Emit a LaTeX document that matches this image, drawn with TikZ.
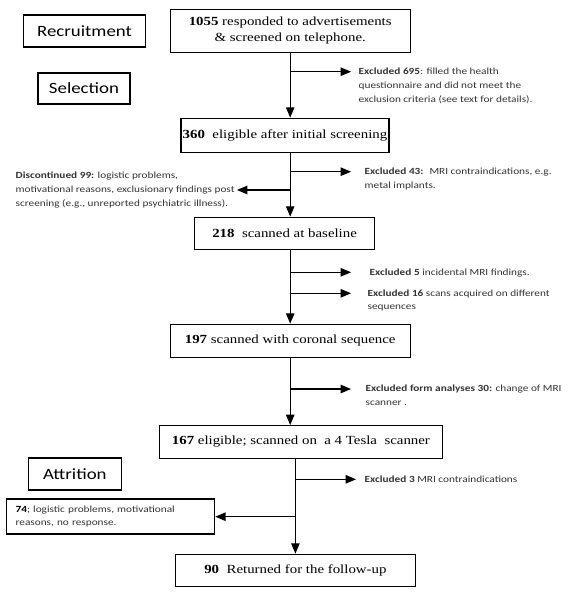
\documentclass[tikz,border=0pt]{standalone}
\usepackage{fontspec}
\setmainfont{Liberation Serif}[FakeStretch=1.2]
\setsansfont{Carlito}[FakeStretch=1.2]
\usepackage{tikz}
\usetikzlibrary{arrows}
\usetikzlibrary{positioning}

\begin{document}
\begin{tikzpicture}[->,>=triangle 45, x=1pt, y=-1pt, line width=1.4pt]
            \tikzstyle{stage}=[draw, fill=white, font=\sffamily\fontsize{15.7}{18}\selectfont, minimum height=32pt, inner sep=0pt]
            \tikzstyle{box}=[draw, fill=white, font=\fontsize{12.4}{16}\selectfont, align=center, inner sep=0pt]
            \tikzstyle{note}=[font=\sffamily\fontsize{9.4}{13.8}\selectfont, text=black!80, align=left, inner xsep=10pt, inner ysep=0pt, anchor=north west]

            \useasboundingbox (0,0) rectangle (567,599);

            % stage labels
            \node[stage, minimum width=122pt] (recruit) at (84.5,31) {Recruitment};
            \node[stage, minimum width=92pt, minimum height=31pt] (select) at (84,88.4) {Selection};
            \node[stage, minimum width=93pt] (attrit) at (74.8,474) {Attrition};

            % main flow
            \node[box, minimum width=240pt, minimum height=43pt] (s1055) at (290.2,30.8) {\textbf{1055} responded to advertisements\\ \& screened on telephone.};
            \node[box, minimum width=208pt, minimum height=34.4pt] (s360) at (285,135.5) {\textbf{360}~ eligible after initial screening};
            \node[box, minimum width=180pt, minimum height=32pt] (s218) at (284.6,233.3) {\textbf{218}~ scanned at baseline};
            \node[box, minimum width=240pt, minimum height=33.4pt] (s197) at (290.2,341) {\textbf{197} scanned with coronal sequence};
            \node[box, minimum width=283pt, minimum height=32.6pt] (s167) at (300.9,442) {\textbf{167} eligible; scanned on~ a 4 Tesla~ scanner};
            \node[box, minimum width=240pt, minimum height=32.4pt] (s90) at (295.4,570.5) {\textbf{90}~ Returned for the follow-up};

            % exclusions
            \node[note, inner xsep=7pt] (x695) at (351,67.2) {\textbf{Excluded 695}: filled the health\\questionnaire and did not meet the\\exclusion criteria (see text for details).};
            \node[note, inner xsep=13pt] (x43) at (351,167.2) {\textbf{Excluded 43:}~ MRI contraindications, e.g.\\metal implants.};
            \node[note, anchor=east, inner xsep=1.7pt] (d99) at (237,190) {\textbf{Discontinued 99:} logistic problems,\\motivational reasons, exclusionary findings post\\screening (e.g., unreported psychiatric illness).};
            \node[note, inner xsep=18pt] (x5) at (351,267.8) {\textbf{Excluded 5} incidental MRI findings.};
            \node[note, inner xsep=16pt] (x16) at (351,288.8) {\textbf{Excluded 16} scans acquired on different\\sequences};
            \node[note, inner xsep=14pt] (x30) at (351,384.5) {\textbf{Excluded form analyses 30:} change of MRI\\scanner .};
            \node[note, inner xsep=8pt] (x3) at (356,474.8) {\textbf{Excluded 3} MRI contraindications};
            \node[draw, font=\sffamily\fontsize{9.4}{13.4}\selectfont, text=black!80, align=left, text width=190pt, inner xsep=9pt, minimum height=35pt] (a74) at (110.6,516.5) {\textcolor{black}{\textbf{74}}; logistic problems, motivational\\reasons, no response.};

            % junctions on the main line
            \coordinate (j695) at (290.2,71.7);
            \coordinate (j43) at (290.2,171.7);
            \coordinate (j99) at (290.2,190);
            \coordinate (j5) at (290.2,272.3);
            \coordinate (j16) at (290.2,293.3);
            \coordinate (j30) at (290.2,389);
            \coordinate (j3) at (295.4,479.3);
            \coordinate (j74) at (295.4,516.7);

            \draw (s1055.south) -- (s1055.south |- s360.north);
            \draw (s1055.south |- s360.south) -- (s1055.south |- s218.north);
            \draw (s1055.south |- s218.south) -- (s1055.south |- s197.north);
            \draw (s197.south) -- (s197.south |- s167.north);
            \draw (s90.north |- s167.south) -- (s90.north);

            \draw (j695) -- (j695 -| x695.west);
            \draw (j43) -- (j43 -| x43.west);
            \draw (j99) -- (d99.east);
            \draw (j5) -- (j5 -| x5.west);
            \draw (j16) -- (j16 -| x16.west);
            \draw (j30) -- (j30 -| x30.west);
            \draw (j3) -- (j3 -| x3.west);
            \draw (j74) -- (j74 -| a74.east);
        \end{tikzpicture}
\end{document}
